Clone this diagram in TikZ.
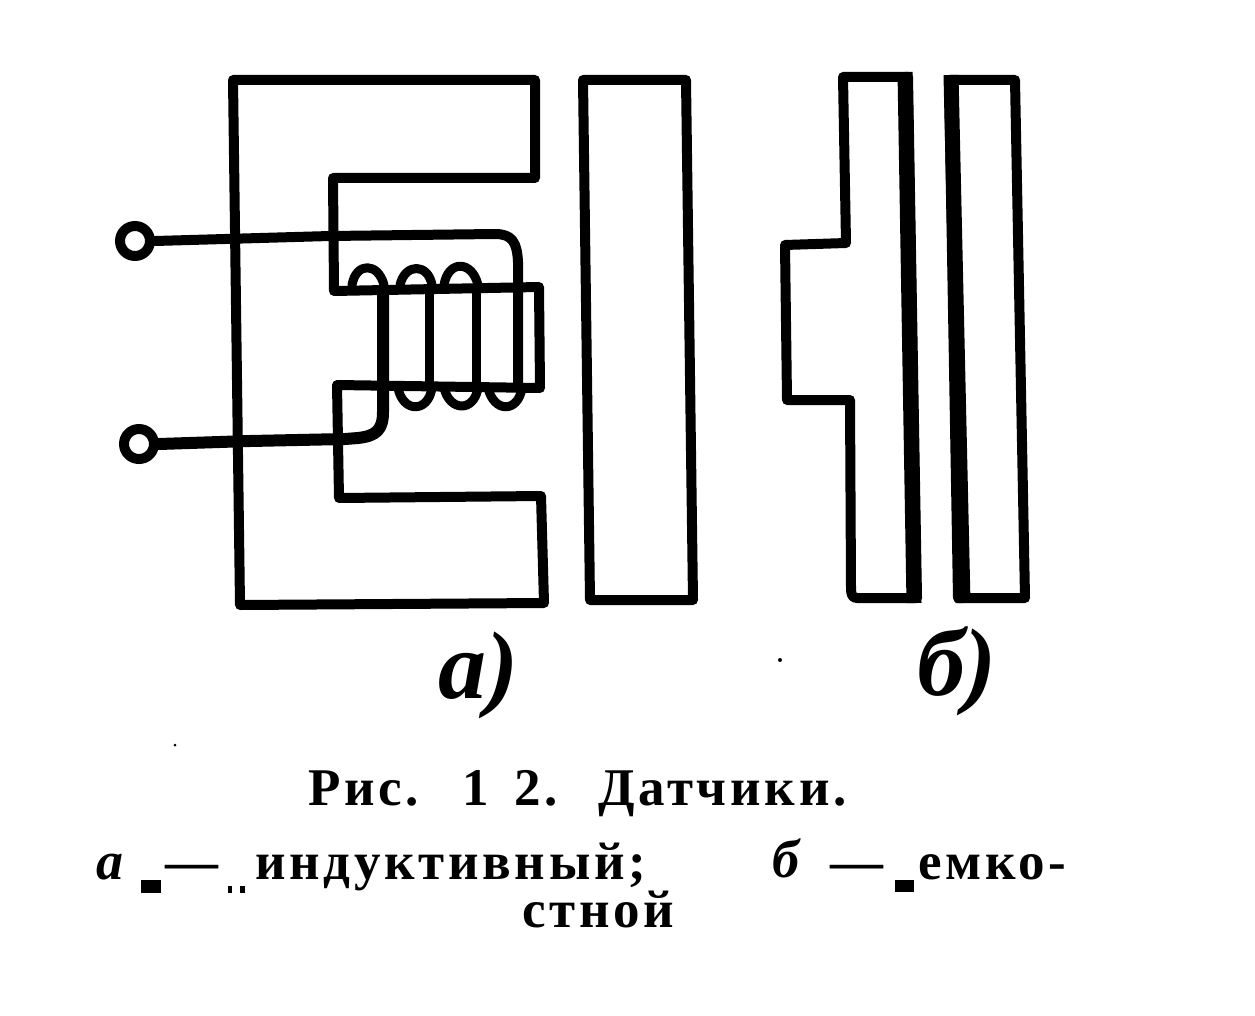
\documentclass[tikz,border=0pt]{standalone}
\usepackage{fontspec}
\setmainfont{Liberation Serif}
\newfontfamily\capfont[LetterSpace=7]{Liberation Serif}
\begin{document}
\begin{tikzpicture}[x=1pt,y=-1pt,
  wire/.style={line width=10pt,line join=round,line cap=round,black},
  thin wire/.style={line width=9pt,line join=round,line cap=round,black},
  terminal/.style={circle,draw=black,line width=10pt,fill=white,minimum size=30pt,inner sep=0pt},
  heavy/.style={line width=15pt,line cap=butt,black},
  capt/.style={inner sep=0pt,anchor=base west,font=\capfont\bfseries\fontsize{53}{53}\selectfont},
  panel/.style={inner sep=0pt,font=\bfseries\itshape\fontsize{96}{96}\selectfont},
  cita/.style={inner sep=0pt,anchor=base west,font=\bfseries\itshape\fontsize{54}{54}\selectfont},
  speck/.style={black}]
\useasboundingbox (0,0) rectangle (1255,1016);
\fill[white] (0,0) rectangle (1255,1016);
% core
\draw[wire] (233,80) -- (535,80) -- (535,178) -- (333,178) -- (334,291) -- (539,287)
  -- (540,388) -- (337,385) -- (339,498) -- (541,496) -- (544,603) -- (240,605) -- cycle;
% armature
\draw[wire] (583,80) -- (686,80) -- (693,600) -- (590,600) -- cycle;
% terminals
\node[terminal] (t1) at (135,241) {};
\node[terminal] (t2) at (139,444) {};
% coil wires
\draw[wire] (t1.east) -- (330,236) -- (495,234) .. controls (512,234) and (517,242) .. (518,262) -- (518,384);
\draw[wire,line width=12pt] (t2.east) -- (250,441) -- (345,439) -- (358,438) .. controls (376,436) and (383,430) .. (383,412) -- (383,290);
\draw[thin wire] (429,290) -- (429,385);
\draw[thin wire] (476,290) -- (476,385);
% upper loops
\draw[thin wire] (352,285) .. controls (356,262) and (378,262) .. (384,285);
\draw[thin wire] (400,285) .. controls (405,263) and (428,263) .. (432,285);
\draw[thin wire] (444,285) .. controls (448,260) and (472,260) .. (478,285);
% lower loops
\draw[thin wire] (398,388) .. controls (403,413) and (428,413) .. (432,388);
\draw[thin wire] (444,388) .. controls (450,412) and (474,412) .. (478,388);
\draw[thin wire] (488,388) .. controls (494,413) and (518,413) .. (522,388);
% capacitive plates
\draw[wire] (843,77) -- (908,77) -- (917,598) -- (857,598) .. controls (852,598) and (851,594) .. (851,588) -- (850,400) -- (787,400) -- (785,245) -- (846,243) -- cycle;
\draw[heavy] (905,72) -- (914,603);
\draw[wire] (949,80) -- (1015,80) -- (1025,598) -- (958,598) -- cycle;
\draw[heavy] (951,75) -- (963,603);
% panel labels
\node[panel] (la) at (478,675) {а)};
\node[panel] (lb) at (957,671) {б)};
% caption
\node[capt] (c1) at (308,805) {Рис.};
\node[capt] (c2) at (462,805) {1};
\node[capt] (c3) at (514,805) {2.};
\node[capt] (c4) at (598,805) {Датчики.};
\node[cita] (c5) at (96,879) {а};
\node[capt] (c6) at (165,879) {—};
\node[capt] (c7) at (255,879) {индуктивный;};
\node[cita] (c8) at (772,877) {б};
\node[capt] (c9) at (830,879) {—};
\node[capt] (c10) at (918,879) {емко-};
\node[capt] (c11) at (522,927) {стной};
% print specks
\fill[speck] (141,880) rectangle (161,893);
\fill[speck] (895,880) rectangle (914,892);
\fill[speck] (228,886) rectangle (232,893);
\fill[speck] (240,886) rectangle (245,893);
\fill[speck] (175,745) circle (1.5);
\fill[speck] (780,660) circle (2);
\end{tikzpicture}
\end{document}
